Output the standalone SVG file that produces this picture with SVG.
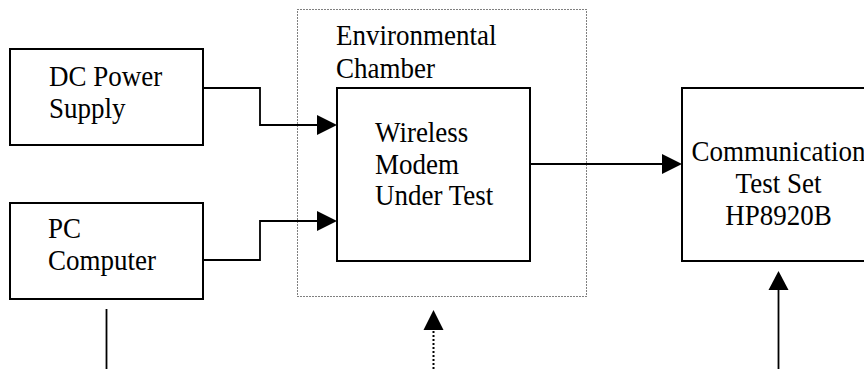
<svg xmlns="http://www.w3.org/2000/svg" width="864" height="369" viewBox="0 0 864 369">
<defs>
<style>
.box{fill:none;stroke:#000;stroke-width:2}
.chamber{fill:none;stroke:#000;stroke-width:1;stroke-dasharray:1 2}
.line{fill:none;stroke:#000;stroke-width:1.8}
.dotline{fill:none;stroke:#000;stroke-width:2;stroke-dasharray:2 2}
.head{fill:#000}
text{font-family:"Liberation Serif","Times New Roman",serif;font-size:27px;fill:#000}
</style>
</defs>
<rect width="864" height="369" fill="#fff"/>
<g id="chamber">
<rect class="chamber" x="297.5" y="9.5" width="289" height="287"/>
<text transform="translate(336,45) scale(1,1.1)">Environmental</text>
<text transform="translate(336,78) scale(1,1.1)">Chamber</text>
</g>
<g id="dc-power">
<rect class="box" x="10" y="49" width="193" height="96"/>
<text transform="translate(49,86) scale(1,1.1)">DC Power</text>
<text transform="translate(49,118) scale(1,1.1)">Supply</text>
</g>
<g id="pc">
<rect class="box" x="10" y="203" width="193" height="96"/>
<text transform="translate(48,238) scale(1,1.1)">PC</text>
<text transform="translate(48,270) scale(1,1.1)">Computer</text>
</g>
<g id="modem">
<rect class="box" x="337" y="88" width="193" height="173"/>
<text transform="translate(375,142) scale(1,1.1)">Wireless</text>
<text transform="translate(375,174) scale(1,1.1)">Modem</text>
<text transform="translate(375,205) scale(1,1.1)">Under Test</text>
</g>
<g id="comm">
<rect class="box" x="682" y="88" width="193" height="173"/>
<text transform="translate(778.5,161) scale(1,1.1)" text-anchor="middle">Communication</text>
<text transform="translate(778.5,193) scale(1,1.1)" text-anchor="middle">Test Set</text>
<text transform="translate(778.5,225) scale(1,1.1)" text-anchor="middle">HP8920B</text>
</g>
<g id="connectors">
<polyline class="line" points="203,88 260,88 260,125 318,125"/>
<polygon class="head" points="317,115 337,125 317,135"/>
<polyline class="line" points="203,260 260,260 260,221 318,221"/>
<polygon class="head" points="317,211 337,221 317,231"/>
<line class="line" x1="530" y1="164" x2="663" y2="164"/>
<polygon class="head" points="662,154 682,164 662,174"/>
<line class="line" x1="778.5" y1="369" x2="778.5" y2="289"/>
<polygon class="head" points="768.5,290 778.5,271 788.5,290"/>
<line class="dotline" x1="433.5" y1="369" x2="433.5" y2="330"/>
<polygon class="head" points="423.5,330 433.5,310 443.5,330"/>
<line class="line" x1="106.5" y1="309" x2="106.5" y2="369"/>
</g>
</svg>
